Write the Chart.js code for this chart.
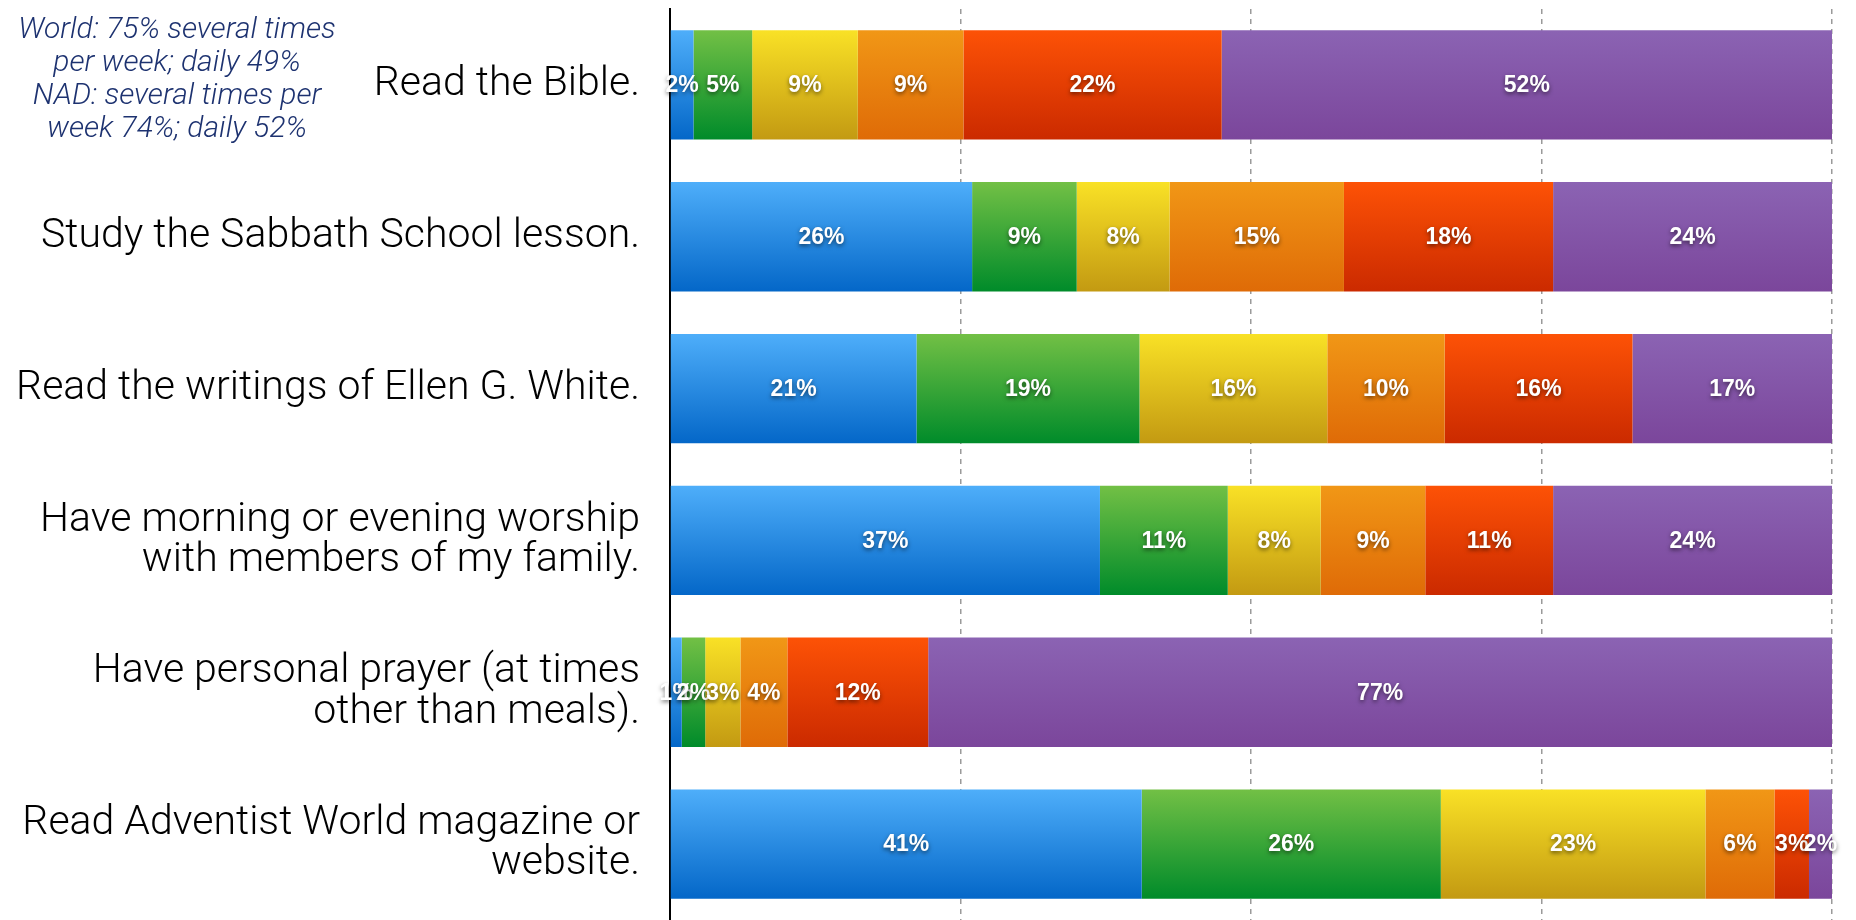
<!DOCTYPE html>
<html>
<head>
<meta charset="utf-8">
<script src="https://cdn.jsdelivr.net/npm/chart.js@4.4.1/dist/chart.umd.min.js"></script>
<style>
  html, body { margin: 0; padding: 0; background: #fff; }
  #wrap { position: relative; width: 1856px; height: 920px; }
</style>
</head>
<body>
<div id="wrap"><canvas id="c"></canvas></div>
<script>
// ---- data ----
const categories = [
  "Read the Bible.",
  "Study the Sabbath School lesson.",
  "Read the writings of Ellen G. White.",
  ["Have morning or evening worship", "with members of my family."],
  ["Have personal prayer (at times", "other than meals)."],
  ["Read Adventist World magazine or", "website."]
];
const seriesNames = ["Never", "Rarely", "Once or twice a month", "Once a week", "Several times a week", "Daily"];
const never        = [2, 26, 21, 37, 1, 41];
const rarely       = [5, 9, 19, 11, 2, 26];
const monthly      = [9, 8, 16, 8, 3, 23];
const weekly       = [9, 15, 10, 9, 4, 6];
const severalWeek  = [22, 18, 16, 11, 12, 3];
const daily        = [52, 24, 17, 24, 77, 2];
const noteLines = [
  "World: 75% several times",
  "per week; daily 49%",
  "NAD: several times per",
  "week 74%; daily 52%"
];

// ---- styles ----
const gradColors = [
  ["#4eaefa", "#0467c8"],
  ["#72c045", "#008b2a"],
  ["#f9e126", "#c39a12"],
  ["#f19716", "#df6b07"],
  ["#fd5206", "#cb2a00"],
  ["#8b63b3", "#7b469b"]
];
const seriesValues = [never, rarely, monthly, weekly, severalWeek, daily];
const rowTotals = categories.map((_, i) => seriesValues.reduce((s, arr) => s + arr[i], 0));
const BAR_PCT = 0.72;

function gradientFor(si) {
  return function (ctx) {
    const chart = ctx.chart;
    const y = chart.scales && chart.scales.y;
    if (!y || ctx.dataIndex === undefined || !chart.chartArea) return gradColors[si][0];
    const c = y.getPixelForValue(ctx.dataIndex);
    const h = (y.height / categories.length) * BAR_PCT;
    const g = chart.ctx.createLinearGradient(0, c - h / 2, 0, c + h / 2);
    g.addColorStop(0, gradColors[si][0]);
    g.addColorStop(1, gradColors[si][1]);
    return g;
  };
}

const datasets = seriesValues.map((arr, si) => ({
  label: seriesNames[si],
  data: arr.map((v, i) => v / rowTotals[i] * 100),
  raw: arr,
  backgroundColor: gradientFor(si),
  borderWidth: 0,
  barPercentage: BAR_PCT,
  categoryPercentage: 1.0
}));

const valueLabels = {
  id: 'valueLabels',
  afterDatasetsDraw(chart) {
    const ctx = chart.ctx;
    ctx.save();
    ctx.font = "bold 23px 'Liberation Sans', Arial, Helvetica, sans-serif";
    ctx.fillStyle = "#ffffff";
    ctx.textAlign = "center";
    ctx.textBaseline = "middle";
    ctx.shadowColor = "rgba(0,0,0,0.55)";
    ctx.shadowBlur = 4;
    ctx.shadowOffsetX = 0;
    ctx.shadowOffsetY = 2;
    chart.data.datasets.forEach((ds, di) => {
      const meta = chart.getDatasetMeta(di);
      meta.data.forEach((el, i) => {
        const x = (el.x + el.base) / 2;
        ctx.fillText(ds.raw[i] + "%", x, el.y + 1);
      });
    });
    ctx.restore();
  }
};

const note = {
  id: 'note',
  afterDraw(chart) {
    const ctx = chart.ctx;
    ctx.save();
    ctx.font = "italic 300 30px Roboto, 'Liberation Sans', sans-serif";
    ctx.fillStyle = "#1d3270";
    ctx.textAlign = "center";
    ctx.textBaseline = "middle";
    noteLines.forEach((t, i) => ctx.fillText(t, 177, 30 + i * 33));
    ctx.restore();
  }
};

new Chart(document.getElementById('c'), {
  type: 'bar',
  data: { labels: categories, datasets },
  options: {
    indexAxis: 'y',
    responsive: true,
    maintainAspectRatio: false,
    animation: false,
    layout: { padding: { top: 9, right: 24, bottom: 0, left: 0 } },
    plugins: { legend: { display: false }, tooltip: { enabled: false } },
    scales: {
      x: {
        stacked: true,
        min: 0,
        max: 100,
        ticks: { display: false, stepSize: 25 },
        grid: { color: "#9a9a9a", lineWidth: 1.5, drawTicks: false },
        border: { display: false, dash: [5, 5] },
        afterFit(s) { s.height = 0; s.paddingLeft = 0; s.paddingRight = 0; }
      },
      y: {
        stacked: true,
        ticks: {
          color: "#000",
          padding: 30,
          font: { family: "Roboto, 'Liberation Sans', sans-serif", size: 41, weight: 300, lineHeight: 0.98 }
        },
        grid: { display: false, drawTicks: false },
        border: { display: true, color: "#000", width: 2 },
        afterFit(s) { s.width = 670; s.paddingTop = 0; s.paddingBottom = 0; }
      }
    }
  },
  plugins: [valueLabels, note]
});
</script>
</body>
</html>
